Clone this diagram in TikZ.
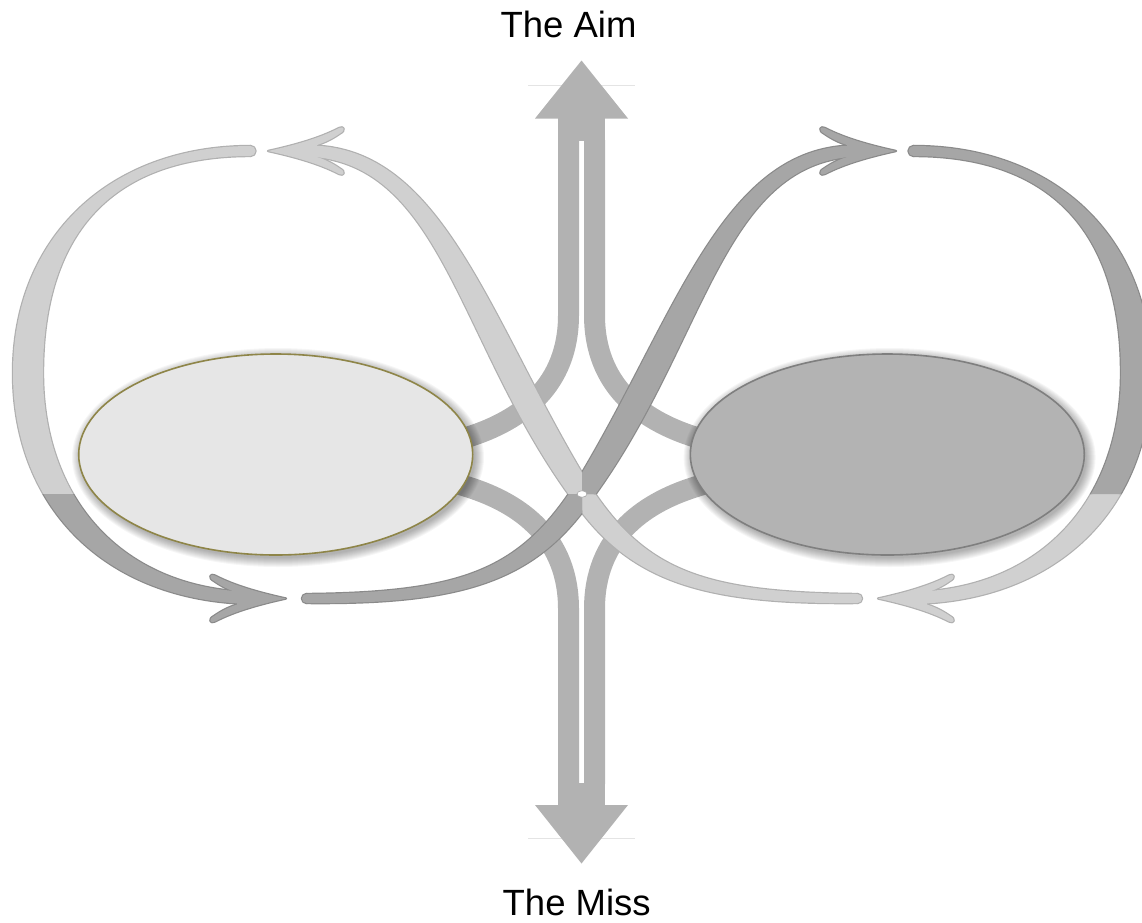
\documentclass[tikz,border=0pt]{standalone}
\usepackage{fontspec}
\setmainfont{Liberation Sans}
\usetikzlibrary{shapes.geometric}
\definecolor{tubegray}{HTML}{B2B2B2}
\definecolor{lightfill}{HTML}{D0D0D0}
\definecolor{lightedge}{HTML}{B0B0B0}
\definecolor{darkfill}{HTML}{A6A6A6}
\definecolor{darkedge}{HTML}{8A8A8A}
\definecolor{leftfill}{HTML}{E6E6E6}
\definecolor{leftrim}{HTML}{8E8548}
\definecolor{rightfill}{HTML}{B3B3B3}
\definecolor{rightrim}{HTML}{7F7F7F}
\definecolor{hairgray}{HTML}{E4E4E4}

\tikzset{
  tube/.style={draw=tubegray, line width=21pt},
  hairline/.style={draw=hairgray, line width=1pt},
  rim/.style={line width=2.4pt, line join=round},
  label/.style={anchor=base, inner sep=0pt, font=\fontsize{36.5}{40}\selectfont},
  disc/.style={ellipse, inner sep=0pt, line width=1.6pt},
}

% curved arrow head, tip at the origin, pointing right
\newcommand\headpath{(0,0) .. controls (-25,-5.5) and (-51,-12.5) .. (-71,-23)
  .. controls (-76,-25.5) and (-78,-20.5) .. (-72,-17.5)
  .. controls (-65,-12.5) and (-57,-8.5) .. (-49,-6) -- (-49,6)
  .. controls (-57,8.5) and (-65,12.5) .. (-72,17.5)
  .. controls (-78,20.5) and (-76,25.5) .. (-71,23)
  .. controls (-51,12.5) and (-25,5.5) .. (0,0) -- cycle}

% one half of the loop: outer arc, S-shaped band and their two heads
\newcommand\halfribbons[1]{%
  \path[#1] (250.5,146) .. controls (110.2,146) and (13,236.8) .. (13,373)
     .. controls (13,511) and (110,604) .. (258,604) -- (258,592)
     .. controls (127.8,592) and (43,504.4) .. (43,373)
     .. controls (43,229.8) and (115.4,156) .. (250.5,156) -- cycle;
  \path[#1] (250.5,151) circle[radius=5pt];
  \path[#1] (306.5,603) .. controls (460,604.5) and (534.28,582.4) .. (591.11,500.16)
     .. controls (705.73,344.64) and (720.27,164) .. (855.16,156.5)
     -- (854.84,145.5)
     .. controls (719.73,146) and (674.27,323.36) .. (572.89,487.84)
     .. controls (517.72,571.2) and (460,592.5) .. (306.5,594) -- cycle;
  \path[#1] (306.5,598.5) circle[radius=4.5pt];
  \begin{scope}[shift={(286,598.5)}]\path[#1] \headpath;\end{scope}
  \begin{scope}[shift={(896,151)}]\path[#1] \headpath;\end{scope}
}
\newcommand\ribbonpieces[1]{%
  \halfribbons{#1}
  \begin{scope}[xshift=1164pt, xscale=-1]\halfribbons{#1}\end{scope}
}

% the two tubes of one side, leaving the shafts and bending into the ovals
\newcommand\halftubes{%
  \draw[tube] (568.5,140) -- (568.5,315) .. controls (568.5,385) and (522,420) .. (468,437) -- (430,449);
  \draw[tube] (568.5,784) -- (568.5,609) .. controls (568.5,539) and (522,504) .. (468,487) -- (430,475);
}

\begin{document}
\begin{tikzpicture}[x=1pt,y=-1pt]
\useasboundingbox (0,0) rectangle (1142,922);

% faint strokes behind the arrow heads
\draw[hairline] (528,85) -- (635,85);
\draw[hairline] (528,838) -- (635,838);

% vertical double arrow
\fill[tubegray] (535,118.5) -- (581.5,60.5) -- (628,118.5) -- cycle;
\fill[tubegray] (558,118) rectangle (605,141);
\fill[tubegray] (535,805) -- (581.5,863.5) -- (628,805) -- cycle;
\fill[tubegray] (558,783) rectangle (605,806);
\halftubes
\begin{scope}[xshift=1163pt, xscale=-1]\halftubes\end{scope}

% soft shadows of the ovals
\foreach \k in {0,...,9} {
  \fill[black, opacity=0.035] (278,457.5) ellipse [x radius={(206-\k)*1pt}, y radius={(109.5-\k)*1pt}];
  \fill[black, opacity=0.035] (889.6,457.5) ellipse [x radius={(206-\k)*1pt}, y radius={(109.5-\k)*1pt}];
}
\node[disc, draw=leftrim, fill=leftfill, minimum width=394pt, minimum height=201pt] (leftoval) at (275.7,454.5) {};
\node[disc, draw=rightrim, fill=rightfill, minimum width=394pt, minimum height=201pt] (rightoval) at (887.3,454.5) {};

% light half of the loop
\begin{scope}
  \clip (0,0) rectangle (582,494) (582,494) rectangle (1142,922);
  \ribbonpieces{draw=lightedge, rim}
  \ribbonpieces{fill=lightfill}
\end{scope}
% dark half of the loop
\begin{scope}
  \clip (0,494) rectangle (582,922) (582,0) rectangle (1142,494);
  \ribbonpieces{draw=darkedge, rim}
  \ribbonpieces{fill=darkfill}
\end{scope}

% crossing point
\node[ellipse, draw=gray!70, fill=white, line width=0.6pt, inner sep=0pt,
      minimum width=10pt, minimum height=6.5pt] (knot) at (582,494) {};

\node[label] (aim) at (568.5,37.5) {The Aim};
\node[label] (miss) at (576.7,915.5) {The Miss};
\end{tikzpicture}
\end{document}
